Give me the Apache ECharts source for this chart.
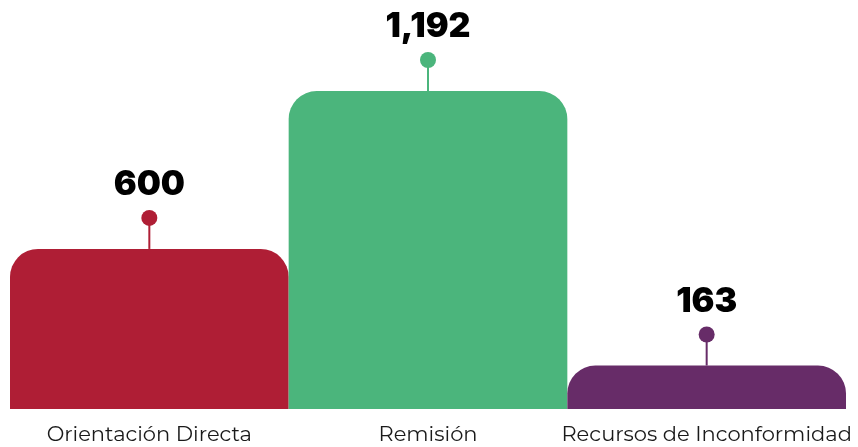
<!DOCTYPE html>
<html>
<head>
<meta charset="utf-8">
<script src="https://cdn.jsdelivr.net/npm/echarts@6/dist/echarts.min.js"></script>
<style>html,body{margin:0;padding:0;background:#fff}#c{width:858px;height:447px}</style>
</head>
<body>
<div id="c"></div>
<script>
const categories = ['Orientación Directa', 'Remisión', 'Recursos de Inconformidad'];
const values = [600, 1192, 163];
const valueLabels = ['600', '1,192', '163'];
const colors = ['#AF1E35', '#4BB57C', '#672C68'];

const chart = echarts.init(document.getElementById('c'));
chart.setOption({
  animation: false,
  grid: { left: 10, right: 12, top: 91, bottom: 38 },
  xAxis: {
    type: 'category',
    data: categories,
    axisLine: { show: false },
    axisTick: { show: false },
    axisLabel: {
      interval: 0,
      hideOverlap: false,
      fontFamily: 'Montserrat, "Open Sans", sans-serif',
      fontSize: 21,
      color: '#1a1a1a',
      margin: 15
    }
  },
  yAxis: { type: 'value', min: 0, max: 1192, show: false, splitLine: { show: false } },
  series: [
    {
      type: 'bar',
      barWidth: '100%',
      data: values.map((v, i) => ({ value: v, itemStyle: { color: colors[i], borderRadius: [28, 28, 0, 0] } }))
    },
    {
      type: 'custom',
      clip: false,
      z: 5,
      data: values.map((v, i) => [i, v]),
      renderItem: function (params, api) {
        const p = api.coord([api.value(0), api.value(1)]);
        const i = params.dataIndex;
        const c = colors[i];
        const cy = p[1] - 31;
        return {
          type: 'group',
          children: [
            { type: 'line', shape: { x1: p[0], y1: cy, x2: p[0], y2: p[1] }, style: { stroke: c, lineWidth: 2 } },
            { type: 'circle', shape: { cx: p[0], cy: cy, r: 8 }, style: { fill: c } },
            { type: 'text', x: p[0], y: cy - 33, style: { text: valueLabels[i], fill: '#000', font: '900 34px Inter, sans-serif', align: 'center', verticalAlign: 'middle' } }
          ]
        };
      }
    }
  ]
});
</script>
</body>
</html>
